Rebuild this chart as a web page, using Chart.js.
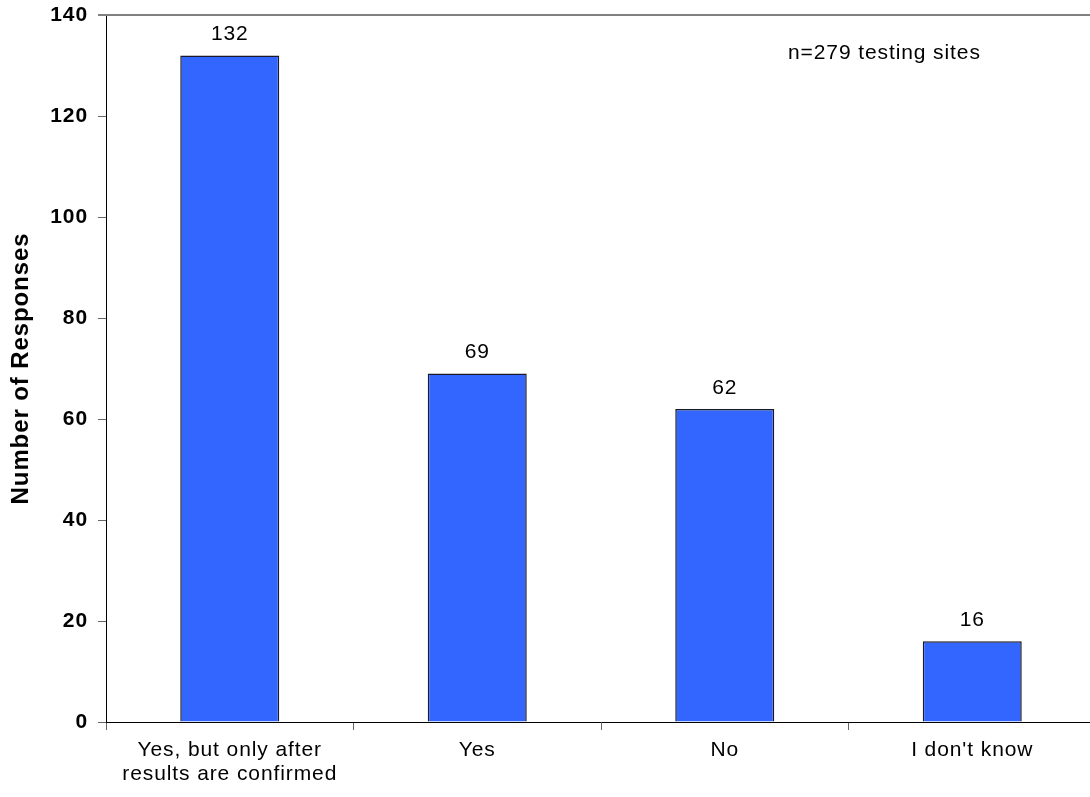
<!DOCTYPE html>
<html>
<head>
<meta charset="utf-8">
<script src="https://cdn.jsdelivr.net/npm/chart.js@4/dist/chart.umd.min.js"></script>
<style>
  html, body { margin: 0; padding: 0; background: #fff; overflow: hidden; }
  #wrap { width: 1100px; height: 797px; }
</style>
</head>
<body>
<div id="wrap"><canvas id="chart" width="1100" height="797"></canvas></div>
<script>
const CATEGORIES = [['Yes, but only after', 'results are confirmed'], 'Yes', 'No', "I don't know"];
const RESPONSES  = [132, 69, 62, 16];
const Y_TICKS    = [0, 20, 40, 60, 80, 100, 120, 140];
const NOTE       = 'n=279 testing sites';

const FONT = "'Liberation Sans', Arial, sans-serif";

// the old metafile look has slightly spread-out letters
// (set again before layout and draw, a canvas resize wipes the ctx state)
const spacingPlugin = {
  id: 'spacing',
  beforeUpdate(chart) { chart.ctx.letterSpacing = '0.9px'; },
  beforeDraw(chart) { chart.ctx.letterSpacing = '0.9px'; },
};

// value labels above bars + note + grey top frame line
const extrasPlugin = {
  id: 'extras',
  afterDatasetsDraw(chart) {
    const { ctx, chartArea } = chart;
    const meta = chart.getDatasetMeta(0);
    ctx.save();
    ctx.font = `21px ${FONT}`;
    ctx.fillStyle = '#000';
    ctx.textAlign = 'center';
    ctx.textBaseline = 'middle';
    meta.data.forEach((bar, i) => {
      ctx.fillText(String(RESPONSES[i]), bar.x, bar.y - 21);
    });
    ctx.textAlign = 'left';
    ctx.fillText(NOTE, chartArea.left + 682, chartArea.top + 38);

    ctx.strokeStyle = '#808080';
    ctx.lineWidth = 2;
    ctx.beginPath();
    ctx.moveTo(chartArea.left - 8, chartArea.top);
    ctx.lineTo(chartArea.right, chartArea.top);
    ctx.stroke();
    ctx.restore();
  },
};

new Chart(document.getElementById('chart').getContext('2d'), {
  type: 'bar',
  plugins: [spacingPlugin, extrasPlugin],
  data: {
    labels: CATEGORIES,
    datasets: [{
      data: RESPONSES,
      backgroundColor: '#3366ff',
      borderColor: '#1a1a2a',
      borderWidth: 1.5,
      barPercentage: 0.4,
      categoryPercentage: 1,
    }],
  },
  options: {
    responsive: false,
    animation: false,
    layout: { padding: { top: 15, right: 4, left: 0, bottom: 0 } },
    plugins: {
      legend: { display: false },
      tooltip: { enabled: false },
    },
    scales: {
      x: {
        offset: true,
        grid: {
          offset: true,
          drawOnChartArea: false,
          tickLength: 8,
          color: '#666',
        },
        border: { color: '#000', width: 1 },
        ticks: {
          color: '#000',
          font: { family: FONT, size: 21, lineHeight: '24px' },
          padding: 8,
          maxRotation: 0,
          autoSkip: false,
        },
        afterFit(scale) {
          scale.height = 75;
          scale.paddingLeft = 0;
          scale.paddingRight = 0;
        },
      },
      y: {
        min: 0,
        max: 140,
        afterBuildTicks(scale) { scale.ticks = Y_TICKS.map(v => ({ value: v })); },
        grid: {
          drawOnChartArea: false,
          tickLength: 8,
          color: '#666',
        },
        border: { color: '#000', width: 1 },
        ticks: {
          color: '#000',
          font: { family: FONT, size: 21, weight: 'bold' },
          padding: 10,
        },
        title: {
          display: true,
          text: 'Number of Responses',
          color: '#000',
          font: { family: FONT, size: 24, weight: 'bold', lineHeight: 1.2 },
          padding: { top: 7, bottom: 0 },
        },
        afterFit(scale) {
          scale.width = 106;
          scale.paddingTop = 0;
          scale.paddingBottom = 0;
        },
      },
    },
  },
});
</script>
</body>
</html>
